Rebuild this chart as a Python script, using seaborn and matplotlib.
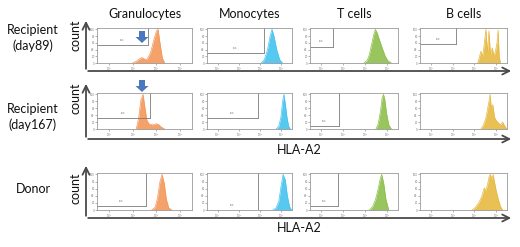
import numpy as np
import pandas as pd
import seaborn as sns
import matplotlib.pyplot as plt

sns.set_style("white")
plt.rcParams['font.family'] = ['Lato', 'DejaVu Sans']

cells = ['Granulocytes', 'Monocytes', 'T cells', 'B cells']
samples = ['Recipient\n(day89)', 'Recipient\n(day167)', 'Donor']
colors = ['#F3975A', '#45C3F0', '#8DBF4C', '#E7B941']

# histogram shapes, x in log10 decades, y in % of max
gran1_x = [2.0, 2.15, 2.3, 2.4, 2.5, 2.6, 2.75, 2.9, 3.0, 3.07, 3.15, 3.25, 3.35]
gran1_y = [0, 5, 13, 16, 12, 10, 30, 70, 95, 100, 60, 15, 0]
gran2_x = [2.15, 2.25, 2.35, 2.44, 2.52, 2.6, 2.7, 2.85, 3.0, 3.1, 3.2, 3.35]
gran2_y = [0, 30, 85, 100, 60, 25, 14, 12, 15, 13, 6, 0]
gran3_x = [2.8, 2.95, 3.05, 3.15, 3.24, 3.33, 3.42, 3.52, 3.65]
gran3_y = [0, 8, 35, 80, 100, 75, 30, 6, 0]

mono1_x = [3.05, 3.2, 3.35, 3.47, 3.56, 3.65, 3.78, 3.92, 4.05]
mono1_y = [0, 10, 40, 80, 100, 80, 40, 10, 0]
mono2_x = [3.75, 3.88, 3.98, 4.06, 4.12, 4.18, 4.26, 4.34, 4.42]
mono2_y = [0, 8, 35, 80, 100, 75, 35, 8, 0]
mono3_x = [3.6, 3.75, 3.88, 3.98, 4.08, 4.18, 4.28, 4.38, 4.48]
mono3_y = [0, 6, 25, 65, 100, 85, 40, 10, 0]

t1_x = [2.95, 3.1, 3.2, 3.3, 3.4, 3.47, 3.55, 3.65, 3.78, 3.92, 4.05, 4.2]
t1_y = [0, 8, 25, 55, 85, 100, 90, 70, 45, 20, 6, 0]
t2_x = [3.5, 3.6, 3.7, 3.78, 3.84, 3.9, 3.98, 4.08, 4.2]
t2_y = [0, 15, 50, 90, 100, 85, 45, 12, 0]
t3_x = [3.2, 3.35, 3.48, 3.6, 3.7, 3.76, 3.85, 3.95, 4.08]
t3_y = [0, 10, 30, 60, 90, 100, 75, 30, 0]

b1_x = [3.15, 3.22, 3.3, 3.38, 3.45, 3.53, 3.6, 3.67, 3.74, 3.82, 3.9, 3.97, 4.04, 4.09, 4.14, 4.2]
b1_y = [0, 15, 35, 20, 55, 100, 30, 95, 25, 45, 20, 35, 60, 98, 20, 0]
b2_x = [3.3, 3.42, 3.52, 3.6, 3.67, 3.72, 3.78, 3.85, 3.92, 4.0, 4.1, 4.2, 4.3, 4.4, 4.5]
b2_y = [0, 12, 30, 55, 80, 100, 60, 70, 35, 25, 18, 12, 20, 8, 0]
b3_x = [2.9, 3.05, 3.2, 3.35, 3.45, 3.52, 3.6, 3.68, 3.74, 3.8, 3.86, 3.92, 4.0, 4.1, 4.2, 4.3]
b3_y = [0, 8, 20, 40, 62, 55, 70, 95, 100, 85, 100, 80, 55, 30, 10, 0]

hists = [[(gran1_x, gran1_y), (mono1_x, mono1_y), (t1_x, t1_y), (b1_x, b1_y)],
         [(gran2_x, gran2_y), (mono2_x, mono2_y), (t2_x, t2_y), (b2_x, b2_y)],
         [(gran3_x, gran3_y), (mono3_x, mono3_y), (t3_x, t3_y), (b3_x, b3_y)]]

# gate: (vertical line in decades, horizontal line in % height); None = no gate
gates = [[(2.65, 54), (3.18, 29), (1.55, 49), (2.16, 57)],
         [(2.73, 31), (2.9, 31), (1.82, 8), (None, None)],
         [(2.56, 11), (2.9, 0), (1.77, 11), (None, None)]]

W, H = 520, 247
fig = plt.figure(figsize=(5.2, 2.47), dpi=100)

col_px = [(97, 192), (207, 292), (310, 398), (420, 507)]
row_px = [(28, 63), (93, 129), (173, 210)]

def px_axes(x0, x1, y0, y1):
    return fig.add_axes([x0 / W, 1 - y1 / H, (x1 - x0) / W, (y1 - y0) / H])

for r in range(3):
    for c in range(4):
        ax = px_axes(col_px[c][0], col_px[c][1], row_px[r][0], row_px[r][1])
        hx, hy = hists[r][c]
        df = pd.DataFrame({'x': hx, 'y': hy})
        sns.lineplot(data=df, x='x', y='y', ax=ax, color=colors[c], lw=0.5)
        ax.fill_between(df['x'], df['y'], color=colors[c], alpha=0.9, lw=0)
        gx, gy = gates[r][c]
        if gx is not None:
            ax.plot([gx, gx], [gy, 104], color='#7a7a7a', lw=0.6)
            ax.plot([0.5, gx], [gy, gy], color='#7a7a7a', lw=0.6)
            ax.text((0.5 + gx) / 2, min(gy + 12, 70), 'xx.x', fontsize=1.8,
                    ha='center', color='#666666')
        ax.set_xlim(0.5, 4.5)
        ax.set_ylim(0, 104)
        ax.set_xticks([1, 2, 3, 4])
        ax.set_xticklabels(['10$^1$', '10$^2$', '10$^3$', '10$^4$'])
        ax.set_yticks([0, 20, 40, 60, 80, 100])
        ax.tick_params(labelsize=2, length=1.2, width=0.4, pad=0.5,
                       colors='#777777', direction='out',
                       bottom=True, left=True)
        ax.set_xlabel('')
        ax.set_ylabel('')
        for s in ax.spines.values():
            s.set_color('#9a9a9a')
            s.set_linewidth(0.6)

# overlay for axis arrows and labels, in pixel coordinates
ov = fig.add_axes([0, 0, 1, 1], facecolor='none')
ov.set_xlim(0, W)
ov.set_ylim(H, 0)
ov.axis('off')

arrow_kw = dict(arrowstyle='->,head_width=0.25,head_length=0.5', color='#4a4a4a', lw=1.3)
axis_rows = [(18, 71), (81, 139), (163, 218)]
for top, base in axis_rows:
    ov.annotate('', xy=(86, top), xytext=(86, base + 0.6), arrowprops=arrow_kw)
    ov.annotate('', xy=(514, base), xytext=(85.4, base), arrowprops=arrow_kw)

for c, name in enumerate(cells):
    ov.text((col_px[c][0] + col_px[c][1]) / 2, 14, name, ha='center', va='center',
            fontsize=9, color='#111111')

row_lab_y = [38, 117, 189]
for r, name in enumerate(samples):
    ov.text(33, row_lab_y[r], name, ha='center', va='center', fontsize=9,
            color='#111111', linespacing=1.3)

count_y = [35, 98, 188]
for y in count_y:
    ov.text(76, y, 'count', rotation=90, ha='center', va='center', fontsize=9,
            color='#111111')

for y in [150, 228]:
    ov.text(277, y, 'HLA-A2', ha='left', va='center', fontsize=9, color='#111111')

# blue markers pointing at the recipient peak
for y0 in [31, 80]:
    ov.arrow(142, y0, 0, 12, width=6, head_width=13, head_length=6,
             length_includes_head=True, color='#4A78BC', lw=0)

fig.savefig('out.png', dpi=100)
